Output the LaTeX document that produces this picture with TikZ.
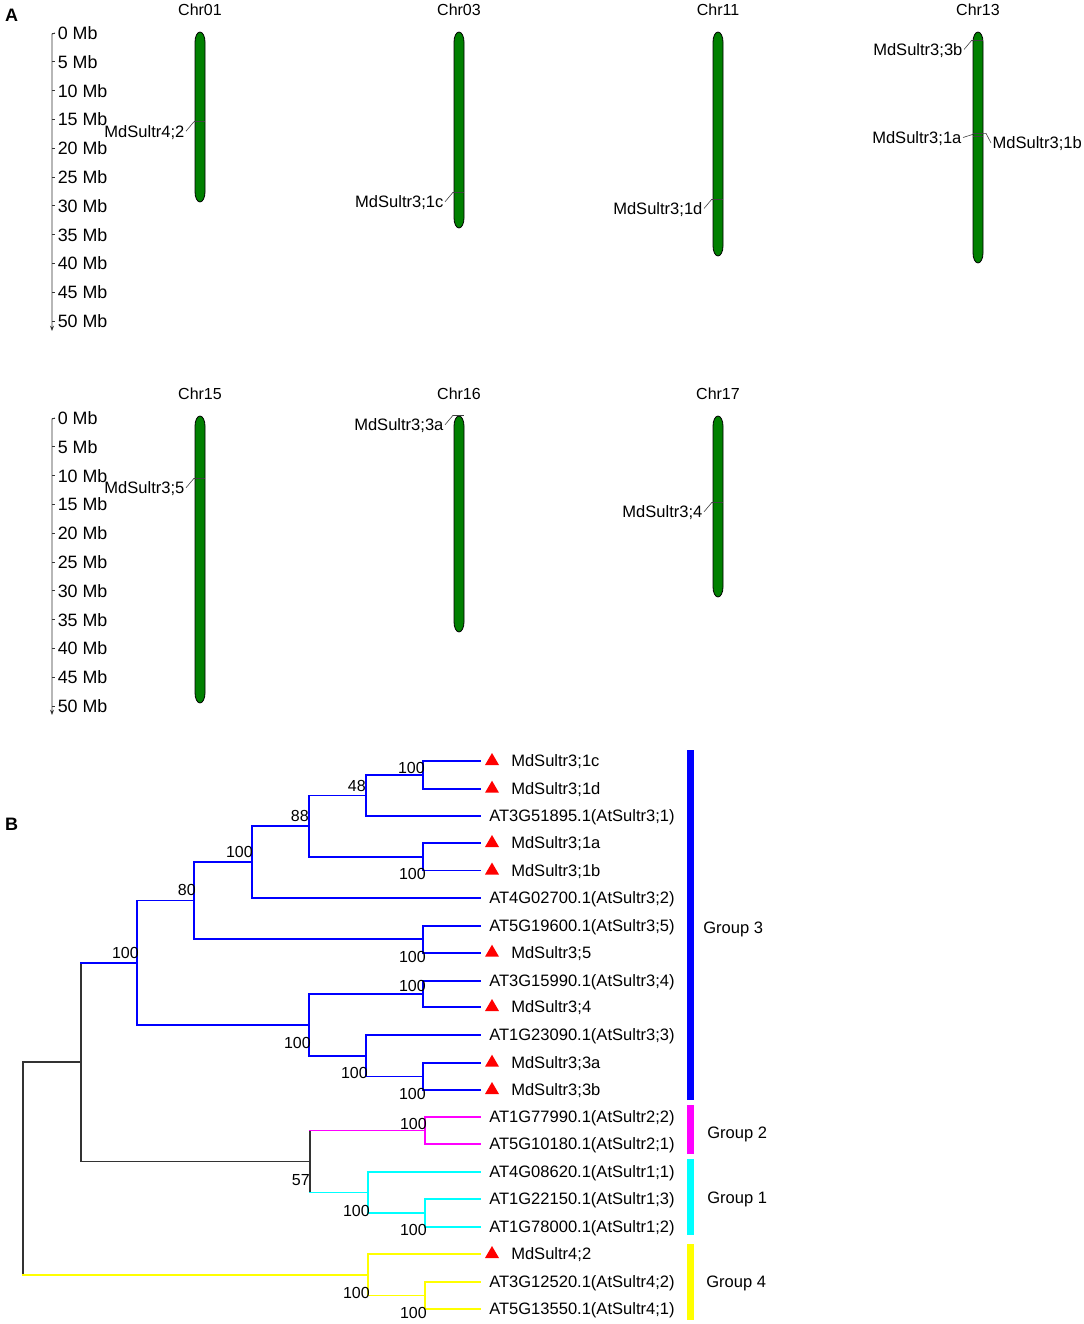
\documentclass[tikz,border=0pt]{standalone}
\usepackage{fontspec}
\setmainfont{Liberation Sans}
\usetikzlibrary{arrows.meta}
\definecolor{chrgreen}{RGB}{0,128,0}
\definecolor{tblue}{RGB}{0,0,255}
\definecolor{tpink}{RGB}{255,0,255}
\definecolor{tcyan}{RGB}{0,255,255}
\definecolor{tyellow}{RGB}{255,255,0}
\definecolor{tred}{RGB}{255,0,0}
\newcommand\tbranch[6]{%
  \draw[treeline,#2] (#1 |- #3) -- (#1 |- #5);
  \draw[treeline,#4] (#1 |- #3) -- (#3);
  \draw[treeline,#6] (#1 |- #5) -- (#5);}
\tikzset{
  lbl/.style={inner sep=0pt, text height=8.8pt, text depth=0pt},
  glbl/.style={inner sep=1pt, text height=8.8pt, text depth=0pt},
  axlbl/.style={inner sep=0pt, text height=9.6pt, text depth=0pt, font=\fontsize{13.4}{15}\selectfont},
  bs/.style={lbl, anchor=east, font=\fontsize{12}{14}\selectfont},
  chrom/.style={draw=black, line width=0.6pt, fill=chrgreen},
  gline/.style={draw=black!75, line width=0.45pt},
  axisline/.style={draw=black!80, line width=0.7pt},
  treeline/.style={line width=1.25pt, line cap=rect},
  panel/.style={inner sep=0pt, font=\fontsize{13.5}{15}\selectfont\bfseries},
}
\begin{document}
\begin{tikzpicture}[x=0.75pt,y=-0.75pt, font=\fontsize{12.4}{14}\selectfont]
\useasboundingbox (0,0) rectangle (1084,1324);

% panel letters
\node[panel] (pA) at (11.5,15) {A};
\node[panel] (pB) at (11.5,824) {B};

% axes
\foreach \yo/\nm/\ye in {33/t/331, 418/b/715}{
  \draw[axisline,-{Stealth[length=4pt,width=3pt]}] (55,\yo) -- (52,\yo+1) -- (52,\ye);
  \foreach \i [evaluate=\i as \mb using int(5*\i)] in {0,...,10}{
    \draw[axisline] (52,\yo+\i*28.8) -- (55,\yo+\i*28.8);
    \node[axlbl,anchor=west] (ax\nm\i) at (57.5,\yo+\i*28.8) {\mb\ Mb};
  }
}

% chromosomes
\foreach \nm/\x/\t/\b in {Chr01/200/32/202, Chr03/459/32/228, Chr11/718/32/256, Chr13/978/32/263, Chr15/200/416/703, Chr16/459/416/632, Chr17/718/416/597}{
  \draw[chrom] (\x-5,\t+10) -- (\x-5,\b-10)
     arc[start angle=180,end angle=360,x radius=3.75pt,y radius=7.5pt]
     -- (\x+5,\t+10)
     arc[start angle=0,end angle=180,x radius=3.75pt,y radius=7.5pt] -- cycle;
  \node[lbl,font=\fontsize{12}{14}\selectfont] (\nm) at (\x,\t-22) {\nm};
}

% gene markers (labels on the left)
\foreach \x/\ym/\txt/\gn in {200/121.7/MdSultr4;2/g1, 459/192.3/MdSultr3;1c/g2, 718/199/MdSultr3;1d/g3, 978/40/MdSultr3;3b/g4, 200/478.3/MdSultr3;5/g5, 459/415.3/MdSultr3;3a/g6, 718/502.3/MdSultr3;4/g7}{
  \draw[gline] (\x-6,\ym) -- (\x+5,\ym);
  \node[glbl,anchor=east] (\gn) at (\x-14,\ym+9.5) {\txt};
  \draw[gline] (\x-6,\ym) -- (\gn.east);
}
% Chr13 pair
\draw[gline] (973,133.3) -- (983,133.3);
\draw[gline] (973,136.7) -- (983,136.7);
\node[glbl,anchor=east] (g8) at (963,137.5) {MdSultr3;1a};
\draw[gline] (973,134.3) -- (g8.east);
\node[glbl,anchor=west] (g9) at (991,143) {MdSultr3;1b};
\draw[gline] (983,133.3) -- (986,133.3) -- (g9.west);

% ---------------- tree ----------------
\foreach \i/\yy/\md/\txt in {
1/761/1/MdSultr3;1c,
2/788.7/1/MdSultr3;1d,
3/816/0/AT3G51895.1(AtSultr3;1),
4/843/1/MdSultr3;1a,
5/870.5/1/MdSultr3;1b,
6/898/0/AT4G02700.1(AtSultr3;2),
7/925.7/0/AT5G19600.1(AtSultr3;5),
8/952.7/1/MdSultr3;5,
9/980.7/0/AT3G15990.1(AtSultr3;4),
10/1007/1/MdSultr3;4,
11/1035/0/AT1G23090.1(AtSultr3;3),
12/1062.7/1/MdSultr3;3a,
13/1090/1/MdSultr3;3b,
14/1117/0/AT1G77990.1(AtSultr2;2),
15/1144/0/AT5G10180.1(AtSultr2;1),
16/1172/0/AT4G08620.1(AtSultr1;1),
17/1199/0/AT1G22150.1(AtSultr1;3),
18/1227/0/AT1G78000.1(AtSultr1;2),
19/1254/1/MdSultr4;2,
20/1282/0/AT3G12520.1(AtSultr4;2),
21/1309/0/AT5G13550.1(AtSultr4;1)}{
  \coordinate (L\i) at (480,\yy);
  \ifnum\md=1
    \fill[tred] (485,\yy+4) -- (492,\yy-8) -- (499,\yy+4) -- cycle;
    \node[lbl,anchor=west] (T\i) at (511,\yy) {\txt};
  \else
    \node[lbl,anchor=west] (T\i) at (489,\yy) {\txt};
  \fi
}

% internal nodes
\coordinate (n12)   at (423,774.85);
\coordinate (n123)  at (366,795.4);
\coordinate (n45)   at (423,856.75);
\coordinate (n15)   at (309,826.1);
\coordinate (n16)   at (252,862);
\coordinate (n78)   at (423,939.2);
\coordinate (n18)   at (194,900.6);
\coordinate (n910)  at (423,993.85);
\coordinate (n1213) at (423,1076.35);
\coordinate (n1113) at (366,1055.7);
\coordinate (n913)  at (309,1024.8);
\coordinate (nG3)   at (137,962.7);
\coordinate (n1415) at (425,1130.5);
\coordinate (n1718) at (425,1213);
\coordinate (n1618) at (368,1192.5);
\coordinate (nG21)  at (310,1161.5);
\coordinate (nTop)  at (81,1062);
\coordinate (n2021) at (425,1295.5);
\coordinate (nG4)   at (368,1274.75);
\coordinate (root)  at (23,1168);

\tbranch{n12}{tblue}{L1}{tblue}{L2}{tblue}
\tbranch{n123}{tblue}{n12}{tblue}{L3}{tblue}
\tbranch{n45}{tblue}{L4}{tblue}{L5}{tblue}
\tbranch{n15}{tblue}{n123}{tblue}{n45}{tblue}
\tbranch{n16}{tblue}{n15}{tblue}{L6}{tblue}
\tbranch{n78}{tblue}{L7}{tblue}{L8}{tblue}
\tbranch{n18}{tblue}{n16}{tblue}{n78}{tblue}
\tbranch{n910}{tblue}{L9}{tblue}{L10}{tblue}
\tbranch{n1213}{tblue}{L12}{tblue}{L13}{tblue}
\tbranch{n1113}{tblue}{L11}{tblue}{n1213}{tblue}
\tbranch{n913}{tblue}{n910}{tblue}{n1113}{tblue}
\tbranch{nG3}{tblue}{n18}{tblue}{n913}{tblue}
\tbranch{n1415}{tpink}{L14}{tpink}{L15}{tpink}
\tbranch{n1718}{tcyan}{L17}{tcyan}{L18}{tcyan}
\tbranch{n1618}{tcyan}{L16}{tcyan}{n1718}{tcyan}
\tbranch{nG21}{black!80}{n1415}{tpink}{n1618}{tcyan}
\tbranch{nTop}{black!80}{nG3}{tblue}{nG21}{black!80}
\tbranch{n2021}{tyellow}{L20}{tyellow}{L21}{tyellow}
\tbranch{nG4}{tyellow}{L19}{tyellow}{n2021}{tyellow}
\tbranch{root}{black!80}{nTop}{black!80}{nG4}{tyellow}

% bootstrap values
\node[bs] (b1)  at (425,768)  {100};
\node[bs] (b2)  at (366,786)  {48};
\node[bs] (b3)  at (309,816)  {88};
\node[bs] (b4)  at (426,874)  {100};
\node[bs] (b5)  at (253,852)  {100};
\node[bs] (b6)  at (196,890)  {80};
\node[bs] (b7)  at (139,953)  {100};
\node[bs] (b8)  at (426,957)  {100};
\node[bs] (b9)  at (426,986)  {100};
\node[bs] (b10) at (311,1043) {100};
\node[bs] (b11) at (368,1073) {100};
\node[bs] (b12) at (426,1094) {100};
\node[bs] (b13) at (427,1124) {100};
\node[bs] (b14) at (310,1180) {57};
\node[bs] (b15) at (370,1211) {100};
\node[bs] (b16) at (427,1230) {100};
\node[bs] (b17) at (370,1293) {100};
\node[bs] (b18) at (427,1313) {100};

% group bars
\fill[tblue]   (687,750)  rectangle (694,1100);
\fill[tpink]   (687,1105) rectangle (694,1153.5);
\fill[tcyan]   (687,1159) rectangle (694,1235);
\fill[tyellow] (687,1244) rectangle (694,1320);
\node[lbl,anchor=west] (G3) at (703,928)  {Group 3};
\node[lbl,anchor=west] (G2) at (707,1133) {Group 2};
\node[lbl,anchor=west] (G1) at (707,1198) {Group 1};
\node[lbl,anchor=west] (G4) at (706,1282) {Group 4};
\end{tikzpicture}
\end{document}
